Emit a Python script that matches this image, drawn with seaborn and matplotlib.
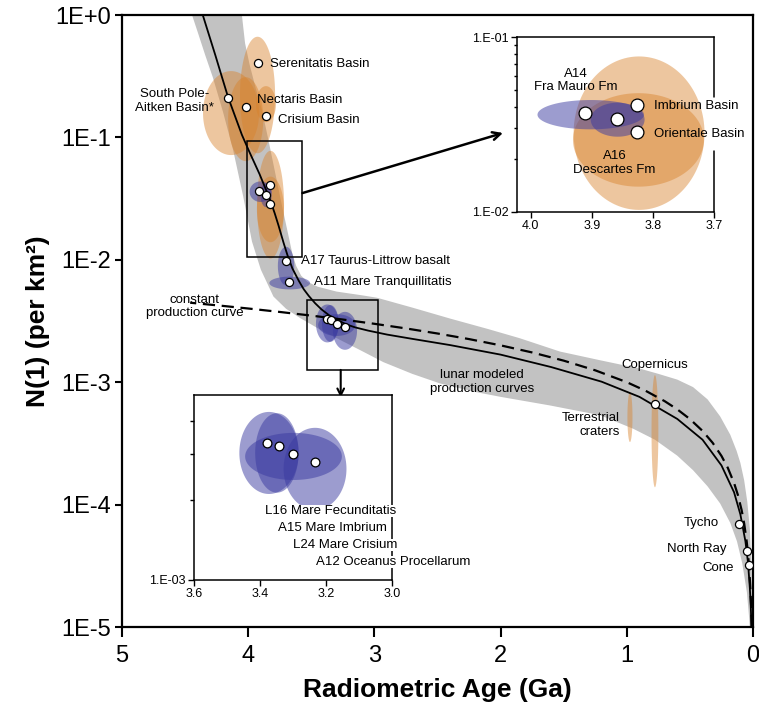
import numpy as np
import matplotlib
matplotlib.use('Agg')
import matplotlib.pyplot as plt
import matplotlib.ticker as mtick
from matplotlib.patches import Rectangle
import seaborn as sns

# ---------------- data ----------------
# lunar modeled production curve (solid line)
model_age = [4.36, 4.31, 4.26, 4.21, 4.16, 4.10, 4.05, 3.99, 3.95, 3.91, 3.87, 3.83, 3.79, 3.76,
             3.72, 3.69, 3.65, 3.60, 3.56, 3.52, 3.47, 3.42, 3.36, 3.30, 3.22, 3.15, 3.05, 2.90,
             2.70, 2.40, 2.00, 1.60, 1.20, 0.90, 0.60, 0.40, 0.25, 0.15, 0.10, 0.06, 0.04, 0.025,
             0.018, 0.012]
model_n = [1.0, 0.684, 0.468, 0.316, 0.214, 0.145, 0.105, 0.0759, 0.0617, 0.0501, 0.0398,
           0.0316, 0.0240, 0.0191, 0.0138, 0.0110, 0.00851, 0.00676, 0.00575, 0.00507, 0.00442,
           0.00394, 0.00353, 0.00324, 0.00296, 0.00280, 0.00264, 0.00245, 0.00226, 0.00201,
           0.00168, 0.00133, 0.00101, 0.000759, 0.000501, 0.000339, 0.000209, 0.000126,
           0.0000832, 0.0000501, 0.0000339, 0.0000209, 0.0000151, 0.00001]

# constant production curve (dashed line)
const_age = [4.46, 4.2, 4.0, 3.75, 3.5, 3.25, 3.0, 2.75, 2.5, 2.25, 2.0, 1.75, 1.5, 1.25, 1.0,
             0.85, 0.7, 0.6, 0.5, 0.4, 0.32, 0.25, 0.2, 0.15, 0.12, 0.09, 0.07, 0.05, 0.04, 0.03,
             0.02, 0.015, 0.01]
const_n = [4.46e-3, 4.2e-3, 4.0e-3, 3.75e-3, 3.5e-3, 3.25e-3, 3.0e-3, 2.75e-3, 2.5e-3, 2.25e-3,
           2.0e-3, 1.75e-3, 1.5e-3, 1.25e-3, 1.0e-3, 8.5e-4, 7.0e-4, 6.0e-4, 5.0e-4, 4.0e-4,
           3.2e-4, 2.5e-4, 2.0e-4, 1.5e-4, 1.2e-4, 9.0e-5, 7.0e-5, 5.0e-5, 4.0e-5, 3.0e-5,
           2.0e-5, 1.5e-5, 1.0e-5]

# grey envelope of lunar modeled production curves
band_hi_age = [4.07, 4.05, 4.025, 3.99, 3.94, 3.89, 3.84, 3.79, 3.74, 3.69, 3.65, 3.62, 3.58,
               3.53, 3.45, 3.30, 3.10, 2.98, 2.70, 2.40, 2.10, 1.85, 1.53, 1.21, 0.895, 0.75,
               0.60, 0.475, 0.36, 0.26, 0.18, 0.13, 0.10, 0.07, 0.045, 0.024, 0.012, 0.006]
band_hi_n = [1.288, 1.0, 0.589, 0.398, 0.251, 0.166, 0.0955, 0.0537, 0.0302, 0.0174, 0.0112,
             0.00891, 0.00741, 0.00661, 0.00603, 0.00550, 0.00513, 0.00490, 0.00407, 0.00331,
             0.00272, 0.00229, 0.00178, 0.00151, 0.00129, 0.00117, 0.00105, 0.000912, 0.000724,
             0.000525, 0.000372, 0.000275, 0.000219, 0.000158, 0.000105, 0.0000617, 0.0000282,
             0.0000079]
band_lo_age = [4.47, 4.445, 4.40, 4.34, 4.28, 4.20, 4.12, 4.04, 3.97, 3.90, 3.80, 3.70, 3.59,
               3.43, 3.27, 3.10, 2.93, 2.70, 2.48, 2.20, 2.00, 1.61, 1.21, 0.95, 0.777, 0.60,
               0.475, 0.36, 0.26, 0.18, 0.127, 0.085, 0.048, 0.03, 0.02]
band_lo_n = [1.288, 1.0, 0.724, 0.468, 0.309, 0.162, 0.0794, 0.0331, 0.0141, 0.00832, 0.00501,
             0.00398, 0.00335, 0.00269, 0.00221, 0.00180, 0.00146, 0.00117, 0.000977, 0.000832,
             0.000759, 0.000646, 0.000537, 0.000417, 0.000339, 0.000251, 0.000191, 0.000141,
             0.000102, 0.0000708, 0.0000501, 0.0000331, 0.0000191, 0.0000117, 0.0000079]

# dated samples: age (Ga), N(1) per km2
pt_name = ['South Pole-Aitken', 'Nectaris', 'Serenitatis', 'Crisium', 'A14', 'A16', 'Imbrium',
           'Orientale', 'A17', 'A11', 'L16', 'A15', 'L24', 'A12', 'Copernicus', 'Tycho',
           'North Ray', 'Cone']
pt_age = [4.16, 4.017, 3.922, 3.859, 3.911, 3.859, 3.826, 3.826, 3.697, 3.674, 3.378, 3.344,
          3.300, 3.232, 0.777, 0.111, 0.050, 0.029]
pt_n = [0.21, 0.177, 0.405, 0.15, 0.0366, 0.034, 0.041, 0.0285, 0.0098, 0.00655, 0.0033,
        0.0032, 0.0030, 0.0028, 0.00066, 0.00007, 0.000042, 0.000032]

# uncertainty ellipses: centre age, centre N, half width (Ga), half height (decades)
orange_age = [4.136, 4.02, 3.926, 3.859, 3.823, 3.824, 0.777, 0.975]
orange_n = [0.158, 0.141, 0.222, 0.187, 0.0282, 0.0258, 3.98e-4, 5.19e-4]
orange_dt = [0.222, 0.139, 0.139, 0.079, 0.107, 0.107, 0.027, 0.02]
orange_dlog = [0.343, 0.343, 0.476, 0.147, 0.44, 0.268, 0.458, 0.204]

blue_age = [3.902, 3.858, 3.70, 3.671, 3.373, 3.349, 3.2985, 3.233]
blue_n = [0.036, 0.0337, 0.0089, 0.00646, 0.00302, 0.00302, 0.00293, 0.00263]
blue_dt = [0.087, 0.044, 0.065, 0.161, 0.090, 0.066, 0.147, 0.0955]
blue_dlog = [0.084, 0.0975, 0.157, 0.052, 0.155, 0.15, 0.089, 0.155]

ORANGE = '#D9822B'
BLUE = '#3A3AA0'
GREY = '#C2C2C2'

sns.set_style('ticks')
plt.rcParams['font.family'] = ['Liberation Sans', 'DejaVu Sans']
for k in ['text.color', 'axes.labelcolor', 'xtick.color', 'ytick.color', 'axes.edgecolor']:
    plt.rcParams[k] = 'black'


def blob(ax, t, n, dt, dlog, color, alpha, z=2):
    a = np.linspace(0, 2 * np.pi, 150)
    ax.fill(t + dt * np.cos(a), n * 10 ** (dlog * np.sin(a)), color=color, alpha=alpha,
            lw=0, zorder=z)


def ellipses(ax, idx_o, idx_b):
    for i in idx_o:
        blob(ax, orange_age[i], orange_n[i], orange_dt[i], orange_dlog[i], ORANGE, 0.45)
    for i in idx_b:
        blob(ax, blue_age[i], blue_n[i], blue_dt[i], blue_dlog[i], BLUE, 0.5, z=3)


W, H = 759, 712
fig = plt.figure(figsize=(W / 100, H / 100), dpi=100)
ax = fig.add_axes([122 / W, 1 - 627 / H, 631 / W, 612 / H])
ax.set_yscale('log')

# grey band
ax.fill(band_hi_age + band_lo_age[::-1], band_hi_n + band_lo_n[::-1], color=GREY, lw=0, zorder=1)

ellipses(ax, range(len(orange_age)), range(len(blue_age)))

sns.lineplot(x=model_age, y=model_n, ax=ax, color='black', lw=1.3, zorder=4)
sns.lineplot(x=const_age, y=const_n, ax=ax, color='black', lw=1.6, zorder=4)
ax.lines[-1].set_dashes([5.5, 3])

sns.scatterplot(x=pt_age, y=pt_n, ax=ax, s=34, color='white', edgecolor='black',
                linewidth=0.9, zorder=6)

# zoom boxes and arrows
ax.add_patch(Rectangle((3.57, 0.01054), 0.44, 0.0934 - 0.01054, fill=False, lw=1.1,
                       ec='black', zorder=5))
ax.add_patch(Rectangle((2.969, 0.00126), 0.563, 0.0047 - 0.00126, fill=False, lw=1.1,
                       ec='black', zorder=5))
ax.annotate('', xy=(1.981, 0.1087), xytext=(3.57, 0.0351),
            arrowprops=dict(arrowstyle='->', lw=1.8, color='black', mutation_scale=14,
                            shrinkA=0, shrinkB=0))
ax.annotate('', xy=(3.267, 0.00075), xytext=(3.267, 0.00126),
            arrowprops=dict(arrowstyle='->', lw=1.5, color='black', mutation_scale=12,
                            shrinkA=0, shrinkB=0))

ax.set_xlim(5, 0)
ax.set_ylim(1e-5, 1)
ax.set_xticks([5, 4, 3, 2, 1, 0])
ax.set_xticklabels(['5', '4', '3', '2', '1', '0'])
ax.yaxis.set_major_locator(mtick.FixedLocator([1, 1e-1, 1e-2, 1e-3, 1e-4, 1e-5]))
ax.yaxis.set_major_formatter(mtick.FixedFormatter(['1E+0', '1E-1', '1E-2', '1E-3', '1E-4', '1E-5']))
ax.yaxis.set_minor_locator(mtick.NullLocator())
ax.tick_params(axis='y', labelsize=17, length=5, width=1.5, pad=3)
ax.tick_params(axis='x', labelsize=17, length=7, width=1.5, pad=6)
for s in ax.spines.values():
    s.set_linewidth(1.6)
    s.set_visible(True)
ax.set_xlabel('Radiometric Age (Ga)', fontsize=19, fontweight='bold', labelpad=8)
ax.set_ylabel('N(1) (per km²)', fontsize=19, fontweight='bold', labelpad=4)

fs = 9.5
ax.text(3.827, 0.398, 'Serenitatis Basin', fontsize=fs, va='center')
ax.text(4.271, 0.198, 'South Pole-\nAitken Basin*', fontsize=fs, va='center', ha='right',
        multialignment='center')
ax.text(3.928, 0.202, 'Nectaris Basin', fontsize=fs, va='center')
ax.text(3.766, 0.139, 'Crisium Basin', fontsize=fs, va='center')
ax.text(3.582, 0.00984, 'A17 Taurus-Littrow basalt', fontsize=fs, va='center')
ax.text(3.476, 0.00655, 'A11 Mare Tranquillitatis', fontsize=fs, va='center')
ax.text(4.422, 0.00416, 'constant\nproduction curve', fontsize=fs, va='center', ha='center')
ax.text(2.147, 0.00100, 'lunar modeled\nproduction curves', fontsize=fs, va='center', ha='center')
ax.text(0.777, 0.00138, 'Copernicus', fontsize=fs, va='center', ha='center')
ax.text(1.054, 0.000447, 'Terrestrial\ncraters', fontsize=fs, va='center', ha='right',
        multialignment='right')
ax.text(0.267, 0.0000703, 'Tycho', fontsize=fs, va='center', ha='right')
ax.text(0.208, 0.0000434, 'North Ray', fontsize=fs, va='center', ha='right')
ax.text(0.151, 0.0000302, 'Cone', fontsize=fs, va='center', ha='right')

# ---------- inset: highland samples ----------
ins1 = fig.add_axes([516.7 / W, 1 - 211.7 / H, 197.6 / W, 174.4 / H])
ins1.set_facecolor('white')
ins1.set_yscale('log')
ellipses(ins1, [4, 5], [0, 1])
sns.scatterplot(x=pt_age[4:8], y=pt_n[4:8], ax=ins1, s=85, color='white', edgecolor='black',
                linewidth=0.9, zorder=6)
ins1.set_xlim(4.023, 3.70)
ins1.set_ylim(1e-2, 1e-1)
ins1.set_xticks([4.0, 3.9, 3.8, 3.7])
ins1.set_xticklabels(['4.0', '3.9', '3.8', '3.7'])
ins1.yaxis.set_major_locator(mtick.FixedLocator([1e-2, 1e-1]))
ins1.yaxis.set_major_formatter(mtick.FixedFormatter(['1.E-02', '1.E-01']))
ins1.yaxis.set_minor_locator(mtick.LogLocator(base=10, subs=np.arange(2, 10)))
ins1.yaxis.set_minor_formatter(mtick.NullFormatter())
ins1.tick_params(which='both', labelsize=9, width=1.0, pad=2)
ins1.tick_params(which='major', length=4)
ins1.tick_params(which='minor', length=2.5)
for s in ins1.spines.values():
    s.set_linewidth(1.1)
ins1.spines['right'].set_visible(False)
ins1.axvline(3.70, 0, 0.35, color='black', lw=1.1, clip_on=False)
ins1.axvline(3.70, 0.66, 1, color='black', lw=1.1, clip_on=False)
ins1.text(3.926, 0.0565, 'A14\nFra Mauro Fm', fontsize=fs, ha='center', va='center')
ins1.text(3.798, 0.0403, 'Imbrium Basin', fontsize=fs, va='center', clip_on=False)
ins1.text(3.798, 0.0278, 'Orientale Basin', fontsize=fs, va='center', clip_on=False)
ins1.text(3.863, 0.019, 'A16\nDescartes Fm', fontsize=fs, ha='center', va='center')

# ---------- inset: mare basalts ----------
ins2 = fig.add_axes([194.3 / W, 1 - 580 / H, 197.4 / W, 185 / H])
ins2.set_facecolor('white')
ins2.set_yscale('log')
ellipses(ins2, [], [4, 5, 6, 7])
sns.scatterplot(x=pt_age[10:14], y=pt_n[10:14], ax=ins2, s=40, color='white',
                edgecolor='black', linewidth=0.9, zorder=6)
ins2.set_xlim(3.6, 3.0)
ins2.set_ylim(1e-3, 5e-3)
ins2.set_xticks([3.6, 3.4, 3.2, 3.0])
ins2.set_xticklabels(['3.6', '3.4', '3.2', '3.0'])
ins2.yaxis.set_major_locator(mtick.FixedLocator([1e-3]))
ins2.yaxis.set_major_formatter(mtick.FixedFormatter(['1.E-03']))
ins2.yaxis.set_minor_locator(mtick.FixedLocator([2e-3, 3e-3, 4e-3]))
ins2.yaxis.set_minor_formatter(mtick.NullFormatter())
ins2.tick_params(which='both', labelsize=9, width=1.0, pad=2)
ins2.tick_params(which='major', length=4)
ins2.tick_params(which='minor', length=3)
for s in ins2.spines.values():
    s.set_linewidth(1.1)

mare_labels = ['L16 Mare Fecunditatis', 'A15 Mare Imbrium', 'L24 Mare Crisium',
               'A12 Oceanus Procellarum']
for lab, xp, yp in zip(mare_labels, [265, 277.7, 293.3, 316], [511, 528, 545, 562]):
    fig.text(xp / W, 1 - yp / H, lab, fontsize=fs, va='center', ha='left', zorder=10,
             bbox=dict(facecolor='white', edgecolor='none', pad=0.3))

fig.savefig('out.png', dpi=100)
